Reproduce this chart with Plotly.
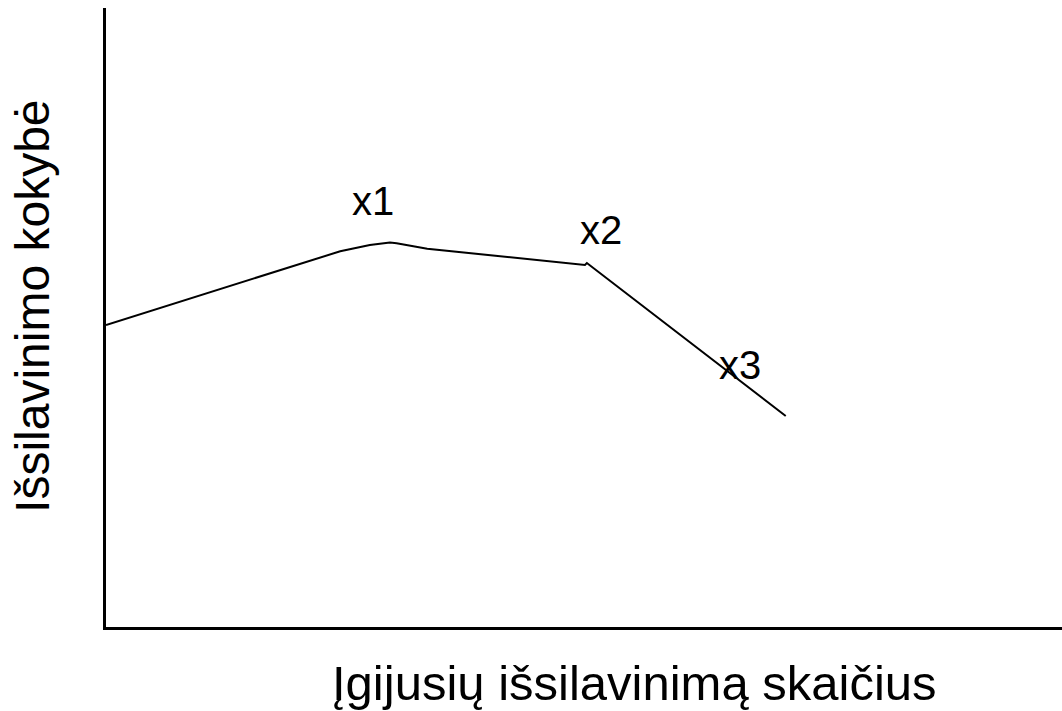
import plotly.graph_objects as go

# curve: position along x axis vs. education quality (arbitrary units, 0-10)
curve_x = [0.0, 2.45, 2.76, 2.97, 3.04, 3.36, 5.01, 5.03, 7.11]
curve_y = [4.88, 6.07, 6.17, 6.21, 6.20, 6.11, 5.85, 5.88, 3.41]

# point labels
label_text = ["x1", "x2", "x3"]
label_x = [2.79, 5.18, 6.63]
label_y = [6.89, 6.42, 4.24]

x_title = "Įgijusių išsilavinimą skaičius"
y_title = "Išsilavinimo kokybė"

FONT = "Liberation Sans, Arial, sans-serif"

fig = go.Figure(go.Scatter(
    x=curve_x,
    y=curve_y,
    mode="lines",
    line={"color": "black", "width": 2},
    hoverinfo="skip",
))

for t, lx, ly in zip(label_text, label_x, label_y):
    fig.add_annotation(
        x=lx, y=ly, text=t, showarrow=False,
        font={"family": FONT, "size": 40, "color": "black"},
        xanchor="center", yanchor="middle",
    )

fig.add_annotation(
    xref="paper", yref="paper", x=0.553, y=-0.0905,
    text=x_title, showarrow=False,
    font={"family": FONT, "size": 49, "color": "black"},
    xanchor="center", yanchor="middle",
)
fig.add_annotation(
    xref="paper", yref="paper", x=-0.0764, y=0.5186,
    text=y_title, showarrow=False, textangle=-90,
    font={"family": FONT, "size": 48, "color": "black"},
    xanchor="center", yanchor="middle",
)

axis_style = {
    "showgrid": False,
    "zeroline": False,
    "showticklabels": False,
    "ticks": "",
    "showline": True,
    "linecolor": "black",
    "linewidth": 3,
    "range": [0, 10],
    "fixedrange": True,
}

fig.update_layout(
    width=1062,
    height=711,
    paper_bgcolor="white",
    plot_bgcolor="white",
    showlegend=False,
    font={"family": FONT, "color": "black"},
    xaxis=axis_style,
    yaxis=axis_style,
    margin=dict(l=106, r=0, t=8, b=84),
)

# drop the default page margin so the figure sits at the window corner
fig.write_html(
    "out.html",
    config={"displayModeBar": False},
    post_script="document.body.style.margin='0';document.body.style.overflow='hidden';",
)
